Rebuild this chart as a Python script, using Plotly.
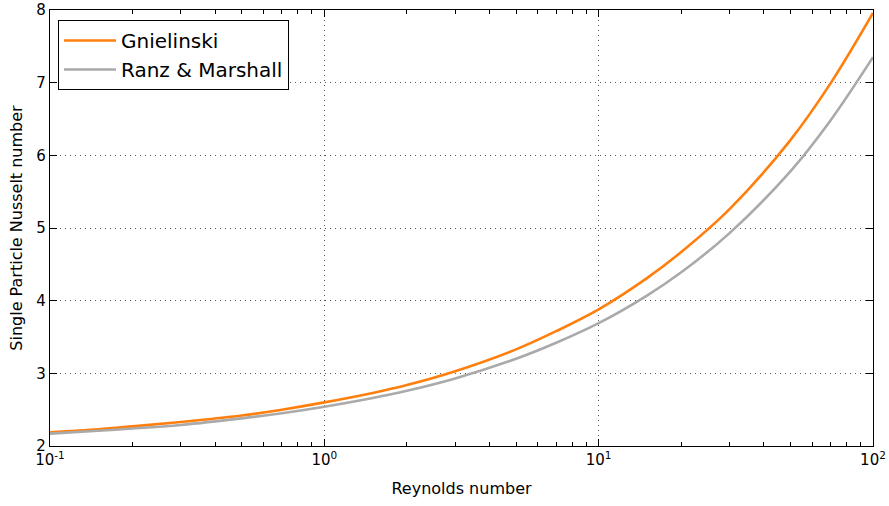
import plotly.graph_objects as go

# Reynolds numbers and Nusselt numbers for a single sphere
reynolds = [0.1, 0.15, 0.2, 0.3, 0.5, 0.7, 1, 1.5, 2, 3, 5, 7, 10, 15, 20, 30, 50, 70, 100]
nu_gnielinski = [2.19, 2.23, 2.27, 2.33, 2.42, 2.50, 2.60, 2.73, 2.84, 3.03, 3.33, 3.58,
                 3.88, 4.31, 4.67, 5.26, 6.21, 6.99, 7.96]
nu_ranz_marshall = [2.17, 2.21, 2.24, 2.29, 2.38, 2.45, 2.54, 2.66, 2.76, 2.93, 3.20, 3.42,
                    3.69, 4.07, 4.39, 4.93, 5.78, 6.48, 7.35]

x_tick_vals = [0.1, 1, 10, 100]
x_tick_text = ["10<sup>-1</sup>", "10<sup>0</sup>", "10<sup>1</sup>", "10<sup>2</sup>"]
y_tick_vals = [2, 3, 4, 5, 6, 7, 8]

minor_vals = [m * d for d in (0.1, 1, 10) for m in range(2, 10)]

fig = go.Figure()
fig.add_trace(go.Scatter(x=reynolds, y=nu_gnielinski, mode="lines", name="Gnielinski",
                         line=dict(color="#ff7f0e", width=2.6, shape="spline")))
fig.add_trace(go.Scatter(x=reynolds, y=nu_ranz_marshall, mode="lines", name="Ranz & Marshall",
                         line=dict(color="#aaaaaa", width=2.6, shape="spline")))

axis_common = dict(
    showline=True, linecolor="black", linewidth=1.2, mirror="ticks",
    ticks="inside", ticklen=7, tickcolor="black", tickwidth=1,
    showgrid=True, gridcolor="#555555", griddash="1px,4px", gridwidth=1,
    zeroline=False, automargin=False,
    tickfont=dict(family="DejaVu Sans", size=15, color="black"),
)

fig.update_xaxes(type="log", range=[-1, 2], tickmode="array",
                 tickvals=x_tick_vals, ticktext=x_tick_text,
                 minor=dict(tickmode="array", tickvals=minor_vals, ticks="inside",
                            ticklen=4, tickcolor="black", showgrid=False),
                 title=dict(text="Reynolds number", standoff=14,
                            font=dict(family="DejaVu Sans", size=16, color="black")),
                 **axis_common)
fig.update_yaxes(range=[2, 8], tickmode="array", tickvals=y_tick_vals,
                 title=dict(text="Single Particle Nusselt number", standoff=9,
                            font=dict(family="DejaVu Sans", size=16, color="black")),
                 **axis_common)

fig.update_layout(
    width=889, height=506,
    margin=dict(l=50, r=16, t=10, b=60),
    plot_bgcolor="white", paper_bgcolor="white",
    font=dict(family="DejaVu Sans", color="black"),
    legend=dict(x=0.0097, y=0.977, xanchor="left", yanchor="top",
                bgcolor="white", bordercolor="black", borderwidth=1,
                font=dict(family="DejaVu Sans", size=20, color="black"),
                itemwidth=52, tracegroupgap=0),
    showlegend=True,
)

fig.write_html("out.html")
